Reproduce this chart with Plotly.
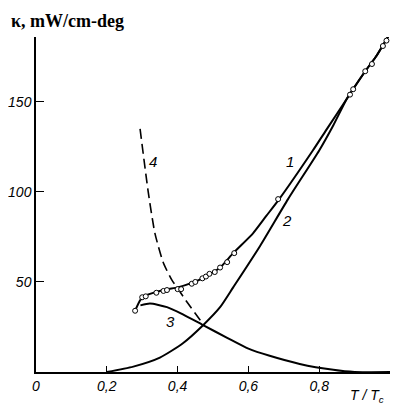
import plotly.graph_objects as go

# Curve 1 (fitted line through experimental points)
x1 = [0.28, 0.295, 0.31, 0.34, 0.37, 0.40, 0.44, 0.48, 0.52, 0.557, 0.613, 0.65, 0.687, 0.782, 0.822, 0.879, 0.93, 0.96, 1.0]
y1 = [34, 40, 42.5, 44.5, 46, 47, 49.5, 53, 58, 66, 77, 86.5, 96, 123, 135, 152, 167, 175, 188]

# Experimental points (open circles)
xc = [0.28, 0.30, 0.31, 0.34, 0.36, 0.37, 0.40, 0.41, 0.44, 0.45, 0.47, 0.48, 0.49, 0.505, 0.52, 0.54, 0.56, 0.684, 0.887, 0.896, 0.93, 0.949, 0.98, 0.99, 0.997]
yc = [34, 41.5, 42, 44, 45, 45.5, 46, 46, 49, 50, 52, 53, 54.5, 55.5, 58, 61, 66, 96, 154, 157, 167, 171, 181, 184, 187]

# Curve 2
x2 = [0.2, 0.275, 0.35, 0.415, 0.472, 0.52, 0.557, 0.633, 0.712, 0.80, 0.84, 0.879, 0.93, 0.96, 1.0]
y2 = [0, 3, 8, 16, 26, 36, 47, 70, 96, 123, 137, 152, 167, 175, 188]

# Curve 3
x3 = [0.295, 0.322, 0.37, 0.415, 0.472, 0.54, 0.60, 0.66, 0.745, 0.84, 0.9, 1.0]
y3 = [37, 38, 36, 32, 26, 19, 13, 9, 4.5, 1.2, 0, 0]

# Curve 4 (dashed)
x4 = [0.294, 0.317, 0.336, 0.36, 0.384, 0.40, 0.426, 0.463, 0.475]
y4 = [135, 100, 77, 60.5, 51, 46.5, 39, 29, 26]

xticks = [0, 0.2, 0.4, 0.6, 0.8, 1.0]
xticktext = ["0", "0,2", "0,4", "0,6", "0,8", "1,0"]
yticks = [50, 100, 150]
yticktext = ["50", "100", "150"]

labels = [("1", 0.717, 117), ("2", 0.709, 84), ("3", 0.379, 28), ("4", 0.33, 117)]

fig = go.Figure()
line = dict(color="black", width=2)
fig.add_trace(go.Scatter(x=x1, y=y1, mode="lines", line=dict(line, shape="spline", smoothing=0.6), cliponaxis=False))
fig.add_trace(go.Scatter(x=x2, y=y2, mode="lines", line=dict(line, shape="spline", smoothing=0.6), cliponaxis=False))
fig.add_trace(go.Scatter(x=x3, y=y3, mode="lines", line=dict(line, shape="spline", smoothing=0.6), cliponaxis=False))
fig.add_trace(go.Scatter(x=x4, y=y4, mode="lines",
                         line=dict(color="black", width=1.6, dash="10px,5px", shape="spline", smoothing=0.6),
                         cliponaxis=False))
fig.add_trace(go.Scatter(x=xc, y=yc, mode="markers",
                         marker=dict(symbol="circle", size=5, color="white", line=dict(color="black", width=1)),
                         cliponaxis=False))

for t, x, y in labels:
    fig.add_annotation(x=x, y=y, text=t, showarrow=False,
                       font=dict(family="Liberation Sans", size=15, color="black", style="italic"))

fig.add_annotation(xref="paper", yref="paper", x=-0.077, y=1.012, xanchor="left", yanchor="bottom",
                   text="κ, mW/cm-deg", showarrow=False,
                   font=dict(family="Liberation Serif", size=18, color="black", weight="bold"))
fig.add_annotation(xref="paper", yref="paper", x=0.99, y=-0.04, xanchor="right", yanchor="top",
                   text="T / T<sub>c</sub>", showarrow=False,
                   font=dict(family="Liberation Sans", size=14, color="black", style="italic"))

fig.update_layout(
    template="none",
    width=390, height=399,
    margin=dict(l=28, r=8, t=29, b=35, autoexpand=False),
    paper_bgcolor="white", plot_bgcolor="white",
    showlegend=False,
    xaxis=dict(range=[0, 1.0], tickvals=xticks, ticktext=xticktext, showgrid=False, zeroline=False,
               automargin=False,
               showline=True, linecolor="black", linewidth=1.5, ticks="inside", ticklen=6,
               tickcolor="black", tickwidth=1,
               tickfont=dict(family="Liberation Sans", size=14, color="black", style="italic")),
    yaxis=dict(range=[0, 186], tickvals=yticks, ticktext=yticktext, showgrid=False, zeroline=False,
               automargin=False,
               showline=True, linecolor="black", linewidth=1.5, ticks="inside", ticklen=8,
               tickcolor="black", tickwidth=1,
               tickfont=dict(family="Liberation Sans", size=14, color="black", style="italic")),
)

fig.write_html("out.html")
